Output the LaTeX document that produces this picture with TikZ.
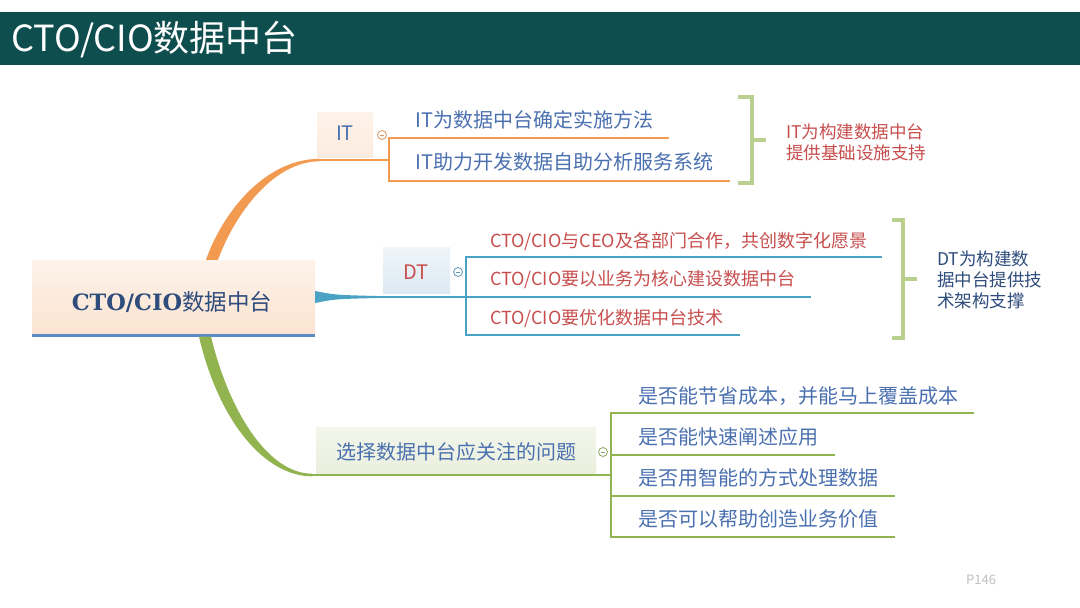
\documentclass[tikz,border=0pt]{standalone}
\usepackage{fontspec}
\setmainfont{Noto Sans CJK SC}
\newfontfamily\slabfont{DejaVu Serif}
\usetikzlibrary{calc}
\definecolor{titlebar}{HTML}{0E4E4E}
\definecolor{orangeb}{HTML}{F29A50}
\definecolor{blueb}{HTML}{4AA3C4}
\definecolor{greenb}{HTML}{92B450}
\definecolor{bracegreen}{HTML}{B9D08F}
\definecolor{txtblue}{HTML}{4A70B0}
\definecolor{txtred}{HTML}{C84E4E}
\definecolor{navy}{HTML}{2E4C7C}
\definecolor{underblue}{HTML}{5B8CC6}
\definecolor{peachA}{HTML}{FDF3EA}
\definecolor{peachB}{HTML}{FBE3D0}
\definecolor{blueA}{HTML}{EEF5F9}
\definecolor{blueB}{HTML}{DCEAF2}
\definecolor{greenA}{HTML}{F3F6EC}
\definecolor{greenB}{HTML}{E9EFDC}
\begin{document}
\begin{tikzpicture}[x=1pt,y=-1pt,
  childtxt/.style={anchor=west,inner sep=0pt,font=\fontsize{20}{24}\selectfont},
  dtchild/.style={anchor=west,inner sep=0pt,text=txtred,font=\fontsize{18}{22}\selectfont},
  sidetxt/.style={anchor=west,inner sep=0pt,align=left,font=\fontsize{17.5}{22}\selectfont},
  itline/.style={draw=orangeb,line width=2pt},
  dtline/.style={draw=blueb,line width=2pt},
  gline/.style={draw=greenb,line width=2pt},
  brace/.style={draw=bracegreen,line width=4pt},
  minusmark/.style={circle,draw,line width=0.8pt,inner sep=0pt,minimum size=9pt,fill=white},
  topicbox/.style={inner sep=0pt,draw=none}
]
\useasboundingbox (0,0) rectangle (1080,608);
\fill[white] (0,0) rectangle (1080,608);
% title bar
\fill[titlebar] (0,12) rectangle (1080,65);
\node[anchor=west,inner sep=0pt,text=white,font=\fontsize{36}{42}\selectfont] (title) at (11,40) {CTO/CIO数据中台};

% central topic
\node[topicbox,minimum width=283pt,minimum height=75pt,top color=peachA,bottom color=peachB] (center) at (173.5,297.5) {};
\draw[underblue,line width=3pt] (center.south west) -- (center.south east);
\node[inner sep=0pt,text=navy,font=\fontsize{22.5}{26}\selectfont] (centertxt) at (172,302) {{\slabfont\bfseries CTO/CIO}数据中台};

% branch nodes
\node[topicbox,minimum width=56pt,minimum height=45pt,top color=peachA,bottom color=peachB!70!white] (it) at (345,134.5) {};
\node[inner sep=0pt,text=txtblue,font=\fontsize{20}{24}\selectfont] (ittxt) at (345,133) {IT};
\node[topicbox,minimum width=67pt,minimum height=46pt,top color=blueA,bottom color=blueB] (dt) at (416.5,270) {};
\node[inner sep=0pt,text=txtred,font=\fontsize{20}{24}\selectfont] (dttxt) at (416,272) {DT};
\node[topicbox,minimum width=280pt,minimum height=48pt,top color=greenA,bottom color=greenB] (sel) at (456,451) {};
\node[inner sep=0pt,text=txtblue,font=\fontsize{20}{24}\selectfont] (seltxt) at (456,452) {选择数据中台应关注的问题};

% junction coordinates
\coordinate (itj) at (389,160);
\coordinate (dtj) at (466,297);
\coordinate (gj) at (611,475);

% tapered main branches
\fill[orangeb] ($(center.north)+(32.5,0)$) .. controls (222,214) and (264,158.8) .. (320,158.8)
  -- (320,161.2) .. controls (272,161.5) and (234,216) .. ($(center.north)+(44.5,0)$) -- cycle;
\draw[itline] (319,160) -- (itj);
\fill[blueb] (center.east |- 0,291) .. controls (335,295) .. (385,296.2)
  -- (385,297.8) .. controls (335,299) .. (center.east |- 0,303) -- cycle;
\draw[dtline] (385,297) -- (dtj);
\fill[greenb] ($(center.south)+(25.5,1.5)$) .. controls (219,422) and (265,476.3) .. (312,476.3)
  -- (312,473.7) .. controls (271,473.7) and (231,418) .. ($(center.south)+(37.5,1.5)$) -- cycle;
\draw[gline] (311,475) -- (gj);

% collapse markers
\node[minusmark,draw=orangeb!80!gray] (itm) at (382,135) {};
\draw[orangeb!80!gray,line width=0.8pt] ($(itm.center)+(-2.2,0)$) -- ($(itm.center)+(2.2,0)$);
\node[minusmark,draw=blueb!70!gray] (dtm) at (458,272) {};
\draw[blueb!70!gray,line width=0.8pt] ($(dtm.center)+(-2.2,0)$) -- ($(dtm.center)+(2.2,0)$);
\node[minusmark,draw=greenb!70!gray] (gm) at (603,452) {};
\draw[greenb!70!gray,line width=0.8pt] ($(gm.center)+(-2.2,0)$) -- ($(gm.center)+(2.2,0)$);

% IT children
\node[childtxt,text=txtblue] (it1) at (415,120) {IT为数据中台确定实施方法};
\node[childtxt,text=txtblue] (it2) at (415,162) {IT助力开发数据自助分析服务系统};
\coordinate (it1e) at (669,138);
\coordinate (it2e) at (730,181);
\draw[itline] (itj) |- (it1e);
\draw[itline] (itj) |- (it2e);

% DT children
\node[dtchild] (dt1) at (490,241) {CTO/CIO与CEO及各部门合作，共创数字化愿景};
\node[dtchild] (dt2) at (490,280) {CTO/CIO要以业务为核心建设数据中台};
\node[dtchild] (dt3) at (490,319) {CTO/CIO要优化数据中台技术};
\coordinate (dt1e) at (882,257);
\coordinate (dt2e) at (811,297);
\coordinate (dt3e) at (740,335);
\draw[dtline] (dtj) |- (dt1e);
\draw[dtline] (dtj) -- (dt2e);
\draw[dtline] (dtj) |- (dt3e);

% selection children
\node[childtxt,text=txtblue] (g1) at (638,396) {是否能节省成本，并能马上覆盖成本};
\node[childtxt,text=txtblue] (g2) at (638,437) {是否能快速阐述应用};
\node[childtxt,text=txtblue] (g3) at (638,478) {是否用智能的方式处理数据};
\node[childtxt,text=txtblue] (g4) at (638,519) {是否可以帮助创造业务价值};
\coordinate (g1e) at (974,413);
\coordinate (g2e) at (835,455);
\coordinate (g3e) at (895,496);
\coordinate (g4e) at (895,537);
\draw[gline] (gj) |- (g1e);
\draw[gline] (gj) |- (g2e);
\draw[gline] (gj) |- (g3e);
\draw[gline] (gj) |- (g4e);

% summary braces
\draw[brace] (738,97) -- (752,97) -- (752,183) -- (738,183);
\draw[brace] (752,140) -- (766,140);
\node[sidetxt,text=txtred] (itsum) at (786,142) {IT为构建数据中台\\[-1pt]提供基础设施支持};
\draw[brace] (892,220) -- (903,220) -- (903,338) -- (892,338);
\draw[brace] (903,279) -- (917,279);
\node[sidetxt,text=navy] (dtsum) at (937,280) {DT为构建数\\[-1pt]据中台提供技\\[-1pt]术架构支撑};

% page number
\node[anchor=west,inner sep=0pt,text=gray!50,font=\fontsize{13}{15}\selectfont] (page) at (966,580) {P146};
\end{tikzpicture}
\end{document}
